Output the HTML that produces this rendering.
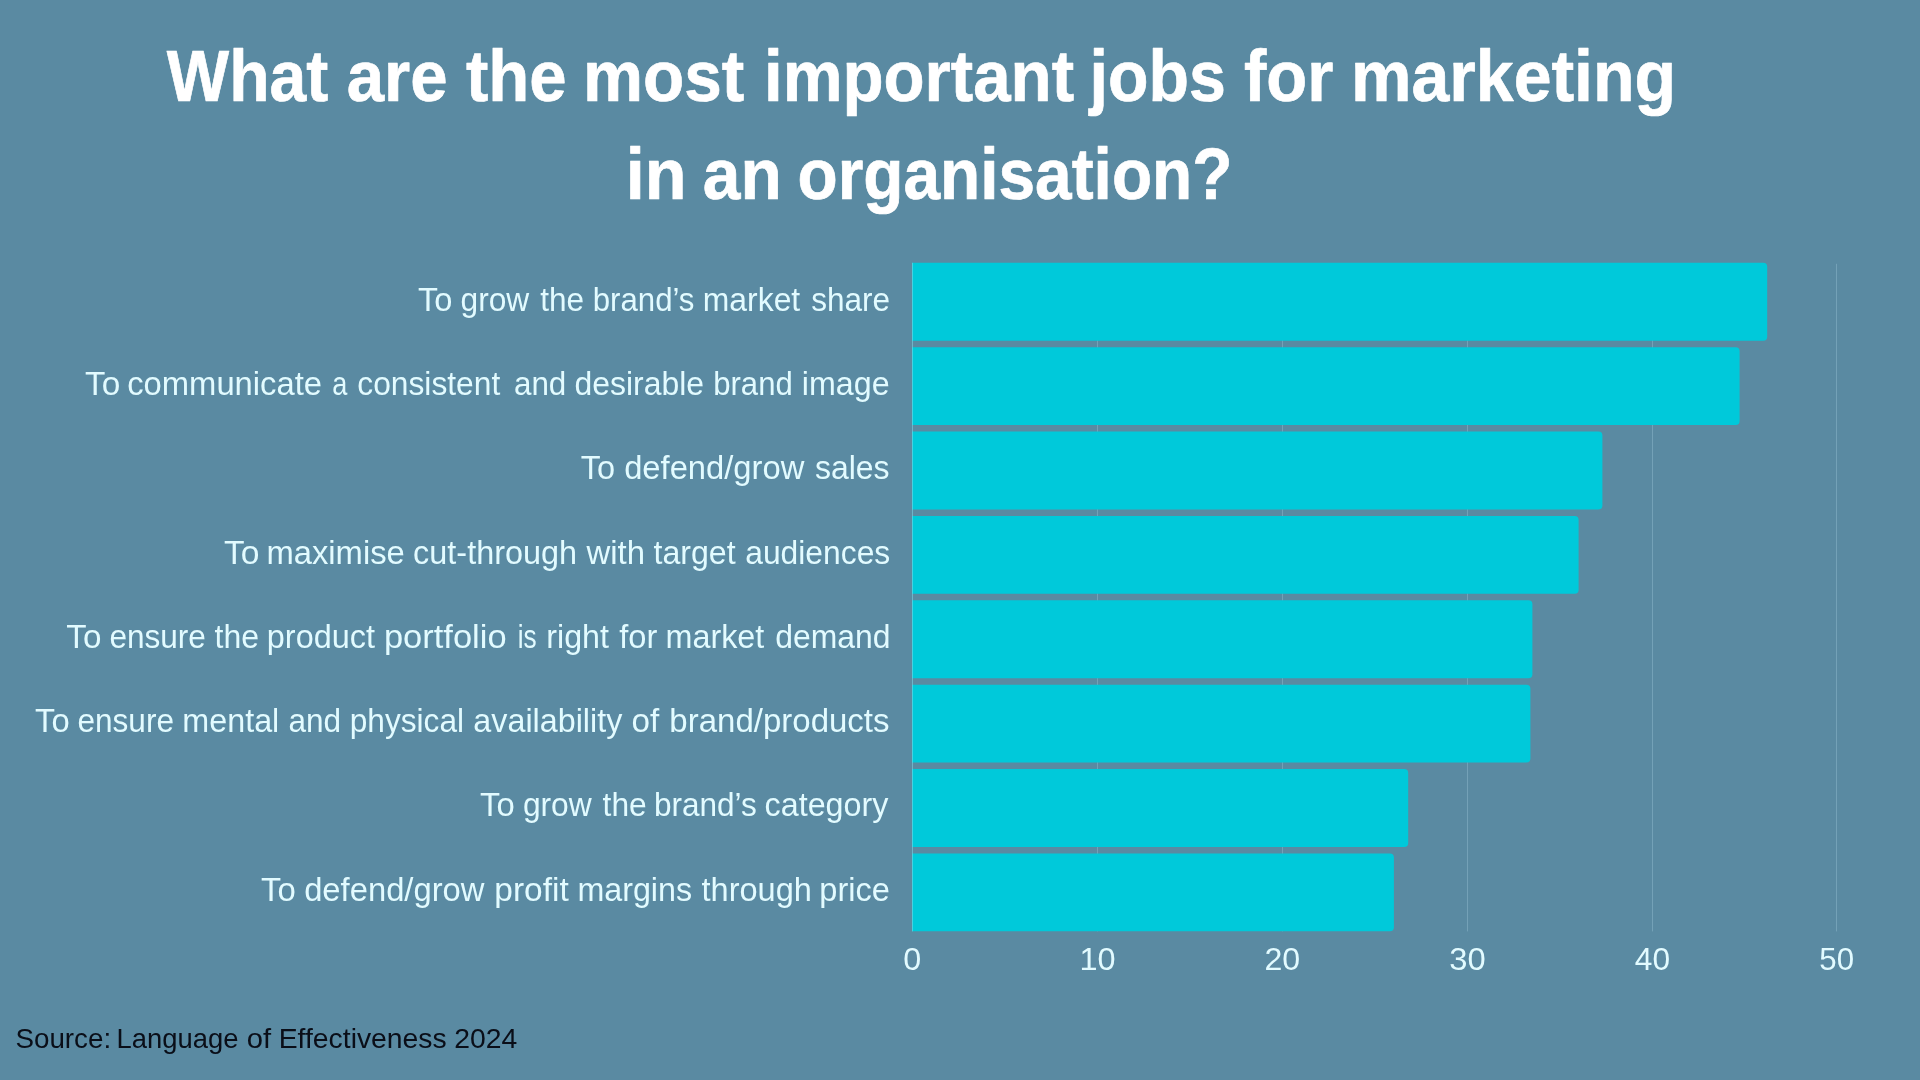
<!DOCTYPE html>
<html lang="en">
<head>
<meta charset="utf-8">
<title>What are the most important jobs for marketing in an organisation?</title>
<style>
html,body{margin:0;padding:0;background:#5a8aa2;}
body{width:1920px;height:1080px;overflow:hidden;font-family:"Liberation Sans",sans-serif;}
svg{display:block;will-change:transform;}
text{font-family:"Liberation Sans",sans-serif;}
.title{font-weight:700;fill:#ffffff;stroke:#ffffff;stroke-width:0.7px;stroke-linejoin:round;}
.lab{fill:#e2fbff;}
.tick{fill:#e2fbff;}
.src{fill:#0a0e18;}
</style>
</head>
<body>
<svg width="1920" height="1080" viewBox="0 0 1920 1080">
<rect x="0" y="0" width="1920" height="1080" fill="#5a8aa2"/>
<text class="title" x="166.84" y="100.8" font-size="71.5" textLength="161.44" lengthAdjust="spacingAndGlyphs">What</text>
<text class="title" x="346.75" y="100.8" font-size="71.5" textLength="100.85" lengthAdjust="spacingAndGlyphs">are</text>
<text class="title" x="465.97" y="100.8" font-size="71.5" textLength="100.7" lengthAdjust="spacingAndGlyphs">the</text>
<text class="title" x="582.99" y="100.8" font-size="71.5" textLength="161.26" lengthAdjust="spacingAndGlyphs">most</text>
<text class="title" x="763.96" y="100.8" font-size="71.5" textLength="310.15" lengthAdjust="spacingAndGlyphs">important</text>
<text class="title" x="1089.57" y="100.8" font-size="71.5" textLength="136.2" lengthAdjust="spacingAndGlyphs">jobs</text>
<text class="title" x="1243.98" y="100.8" font-size="71.5" textLength="89.33" lengthAdjust="spacingAndGlyphs">for</text>
<text class="title" x="1351.1" y="100.8" font-size="71.5" textLength="325.0" lengthAdjust="spacingAndGlyphs">marketing</text>
<text class="title" x="625.69" y="198.7" font-size="71.5" textLength="60.78" lengthAdjust="spacingAndGlyphs">in</text>
<text class="title" x="702.75" y="198.7" font-size="71.5" textLength="79.01" lengthAdjust="spacingAndGlyphs">an</text>
<text class="title" x="797.45" y="198.7" font-size="71.5" textLength="435.03" lengthAdjust="spacingAndGlyphs">organisation?</text>
<g fill="#74a1b7">
<rect x="1097" y="263.8" width="1" height="667.6"/>
<rect x="1282" y="263.8" width="1" height="667.6"/>
<rect x="1467" y="263.8" width="1" height="667.6"/>
<rect x="1652" y="263.8" width="1" height="667.6"/>
<rect x="1836" y="263.8" width="1" height="667.6"/>
</g>
<g fill="#00c9da">
<path d="M912.0 262.8 H1763.2 Q1767.2 262.8 1767.2 266.8 V336.7 Q1767.2 340.7 1763.2 340.7 H912.0 Z"/>
<path d="M912.0 347.18 H1735.6 Q1739.6 347.18 1739.6 351.18 V421.08 Q1739.6 425.08 1735.6 425.08 H912.0 Z"/>
<path d="M912.0 431.56 H1598.4 Q1602.4 431.56 1602.4 435.56 V505.46 Q1602.4 509.46 1598.4 509.46 H912.0 Z"/>
<path d="M912.0 515.94 H1574.6 Q1578.6 515.94 1578.6 519.94 V589.84 Q1578.6 593.84 1574.6 593.84 H912.0 Z"/>
<path d="M912.0 600.32 H1528.4 Q1532.4 600.32 1532.4 604.32 V674.22 Q1532.4 678.22 1528.4 678.22 H912.0 Z"/>
<path d="M912.0 684.7 H1526.4 Q1530.4 684.7 1530.4 688.7 V758.6 Q1530.4 762.6 1526.4 762.6 H912.0 Z"/>
<path d="M912.0 769.08 H1404.2 Q1408.2 769.08 1408.2 773.08 V842.98 Q1408.2 846.98 1404.2 846.98 H912.0 Z"/>
<path d="M912.0 853.46 H1389.9 Q1393.9 853.46 1393.9 857.46 V927.36 Q1393.9 931.36 1389.9 931.36 H912.0 Z"/>
</g>
<rect x="912" y="262.8" width="1" height="668.6" fill="#7fd9e8" opacity="0.55"/>
<text class="lab" x="418.03" y="310.6" font-size="32.8" textLength="34.5" lengthAdjust="spacingAndGlyphs">To</text>
<text class="lab" x="460.51" y="310.6" font-size="32.8" textLength="68.72" lengthAdjust="spacingAndGlyphs">grow</text>
<text class="lab" x="540.16" y="310.6" font-size="32.8" textLength="43.87" lengthAdjust="spacingAndGlyphs">the</text>
<text class="lab" x="592.74" y="310.6" font-size="32.8" textLength="101.73" lengthAdjust="spacingAndGlyphs">brand’s</text>
<text class="lab" x="702.81" y="310.6" font-size="32.8" textLength="97.43" lengthAdjust="spacingAndGlyphs">market</text>
<text class="lab" x="811.13" y="310.6" font-size="32.8" textLength="78.89" lengthAdjust="spacingAndGlyphs">share</text>
<text class="lab" x="84.97" y="394.9" font-size="32.8" textLength="35.26" lengthAdjust="spacingAndGlyphs">To</text>
<text class="lab" x="127.21" y="394.9" font-size="32.8" textLength="194.85" lengthAdjust="spacingAndGlyphs">communicate</text>
<text class="lab" x="332.23" y="394.9" font-size="32.8" textLength="15.09" lengthAdjust="spacingAndGlyphs">a</text>
<text class="lab" x="357.33" y="394.9" font-size="32.8" textLength="142.89" lengthAdjust="spacingAndGlyphs">consistent</text>
<text class="lab" x="513.94" y="394.9" font-size="32.8" textLength="52.37" lengthAdjust="spacingAndGlyphs">and</text>
<text class="lab" x="574.46" y="394.9" font-size="32.8" textLength="129.58" lengthAdjust="spacingAndGlyphs">desirable</text>
<text class="lab" x="713.21" y="394.9" font-size="32.8" textLength="79.52" lengthAdjust="spacingAndGlyphs">brand</text>
<text class="lab" x="801.84" y="394.9" font-size="32.8" textLength="87.78" lengthAdjust="spacingAndGlyphs">image</text>
<text class="lab" x="580.66" y="479.2" font-size="32.8" textLength="34.34" lengthAdjust="spacingAndGlyphs">To</text>
<text class="lab" x="624.14" y="479.2" font-size="32.8" textLength="180.22" lengthAdjust="spacingAndGlyphs">defend/grow</text>
<text class="lab" x="814.91" y="479.2" font-size="32.8" textLength="74.6" lengthAdjust="spacingAndGlyphs">sales</text>
<text class="lab" x="224.0" y="563.5" font-size="32.8" textLength="35.57" lengthAdjust="spacingAndGlyphs">To</text>
<text class="lab" x="266.44" y="563.5" font-size="32.8" textLength="138.32" lengthAdjust="spacingAndGlyphs">maximise</text>
<text class="lab" x="413.12" y="563.5" font-size="32.8" textLength="163.97" lengthAdjust="spacingAndGlyphs">cut-through</text>
<text class="lab" x="586.48" y="563.5" font-size="32.8" textLength="58.58" lengthAdjust="spacingAndGlyphs">with</text>
<text class="lab" x="653.52" y="563.5" font-size="32.8" textLength="82.12" lengthAdjust="spacingAndGlyphs">target</text>
<text class="lab" x="745.21" y="563.5" font-size="32.8" textLength="145.06" lengthAdjust="spacingAndGlyphs">audiences</text>
<text class="lab" x="66.33" y="647.8" font-size="32.8" textLength="35.12" lengthAdjust="spacingAndGlyphs">To</text>
<text class="lab" x="109.42" y="647.8" font-size="32.8" textLength="96.52" lengthAdjust="spacingAndGlyphs">ensure</text>
<text class="lab" x="214.53" y="647.8" font-size="32.8" textLength="44.51" lengthAdjust="spacingAndGlyphs">the</text>
<text class="lab" x="266.84" y="647.8" font-size="32.8" textLength="108.16" lengthAdjust="spacingAndGlyphs">product</text>
<text class="lab" x="383.94" y="647.8" font-size="32.8" textLength="122.68" lengthAdjust="spacingAndGlyphs">portfolio</text>
<text class="lab" x="517.72" y="647.8" font-size="32.8" textLength="18.92" lengthAdjust="spacingAndGlyphs">is</text>
<text class="lab" x="546.28" y="647.8" font-size="32.8" textLength="62.72" lengthAdjust="spacingAndGlyphs">right</text>
<text class="lab" x="619.26" y="647.8" font-size="32.8" textLength="38.13" lengthAdjust="spacingAndGlyphs">for</text>
<text class="lab" x="665.55" y="647.8" font-size="32.8" textLength="98.74" lengthAdjust="spacingAndGlyphs">market</text>
<text class="lab" x="775.2" y="647.8" font-size="32.8" textLength="115.33" lengthAdjust="spacingAndGlyphs">demand</text>
<text class="lab" x="35.04" y="732.1" font-size="32.8" textLength="34.59" lengthAdjust="spacingAndGlyphs">To</text>
<text class="lab" x="77.43" y="732.1" font-size="32.8" textLength="96.57" lengthAdjust="spacingAndGlyphs">ensure</text>
<text class="lab" x="182.32" y="732.1" font-size="32.8" textLength="97.0" lengthAdjust="spacingAndGlyphs">mental</text>
<text class="lab" x="288.39" y="732.1" font-size="32.8" textLength="52.71" lengthAdjust="spacingAndGlyphs">and</text>
<text class="lab" x="349.69" y="732.1" font-size="32.8" textLength="114.38" lengthAdjust="spacingAndGlyphs">physical</text>
<text class="lab" x="473.33" y="732.1" font-size="32.8" textLength="149.02" lengthAdjust="spacingAndGlyphs">availability</text>
<text class="lab" x="631.52" y="732.1" font-size="32.8" textLength="27.7" lengthAdjust="spacingAndGlyphs">of</text>
<text class="lab" x="669.39" y="732.1" font-size="32.8" textLength="220.17" lengthAdjust="spacingAndGlyphs">brand/products</text>
<text class="lab" x="480.03" y="816.4" font-size="32.8" textLength="34.69" lengthAdjust="spacingAndGlyphs">To</text>
<text class="lab" x="522.89" y="816.4" font-size="32.8" textLength="68.85" lengthAdjust="spacingAndGlyphs">grow</text>
<text class="lab" x="602.57" y="816.4" font-size="32.8" textLength="44.12" lengthAdjust="spacingAndGlyphs">the</text>
<text class="lab" x="653.95" y="816.4" font-size="32.8" textLength="102.89" lengthAdjust="spacingAndGlyphs">brand’s</text>
<text class="lab" x="764.61" y="816.4" font-size="32.8" textLength="123.8" lengthAdjust="spacingAndGlyphs">category</text>
<text class="lab" x="261.01" y="900.7" font-size="32.8" textLength="34.76" lengthAdjust="spacingAndGlyphs">To</text>
<text class="lab" x="304.13" y="900.7" font-size="32.8" textLength="180.37" lengthAdjust="spacingAndGlyphs">defend/grow</text>
<text class="lab" x="494.34" y="900.7" font-size="32.8" textLength="74.43" lengthAdjust="spacingAndGlyphs">profit</text>
<text class="lab" x="577.38" y="900.7" font-size="32.8" textLength="114.7" lengthAdjust="spacingAndGlyphs">margins</text>
<text class="lab" x="701.5" y="900.7" font-size="32.8" textLength="110.33" lengthAdjust="spacingAndGlyphs">through</text>
<text class="lab" x="819.35" y="900.7" font-size="32.8" textLength="70.62" lengthAdjust="spacingAndGlyphs">price</text>
<text class="tick" x="903.16" y="969.7" font-size="32.1" textLength="17.98" lengthAdjust="spacingAndGlyphs">0</text>
<text class="tick" x="1079.43" y="969.7" font-size="32.1" textLength="36.09" lengthAdjust="spacingAndGlyphs">10</text>
<text class="tick" x="1264.39" y="969.7" font-size="32.1" textLength="35.73" lengthAdjust="spacingAndGlyphs">20</text>
<text class="tick" x="1449.2" y="969.7" font-size="32.1" textLength="36.41" lengthAdjust="spacingAndGlyphs">30</text>
<text class="tick" x="1634.85" y="969.7" font-size="32.1" textLength="35.19" lengthAdjust="spacingAndGlyphs">40</text>
<text class="tick" x="1819.32" y="969.7" font-size="32.1" textLength="34.76" lengthAdjust="spacingAndGlyphs">50</text>
<text class="src" x="15.47" y="1048.4" font-size="27.8" textLength="95.65" lengthAdjust="spacingAndGlyphs">Source:</text>
<text class="src" x="116.62" y="1048.4" font-size="27.8" textLength="121.84" lengthAdjust="spacingAndGlyphs">Language</text>
<text class="src" x="246.78" y="1048.4" font-size="27.8" textLength="24.34" lengthAdjust="spacingAndGlyphs">of</text>
<text class="src" x="278.69" y="1048.4" font-size="27.8" textLength="168.04" lengthAdjust="spacingAndGlyphs">Effectiveness</text>
<text class="src" x="454.18" y="1048.4" font-size="27.8" textLength="63.06" lengthAdjust="spacingAndGlyphs">2024</text>
</svg>
</body>
</html>
